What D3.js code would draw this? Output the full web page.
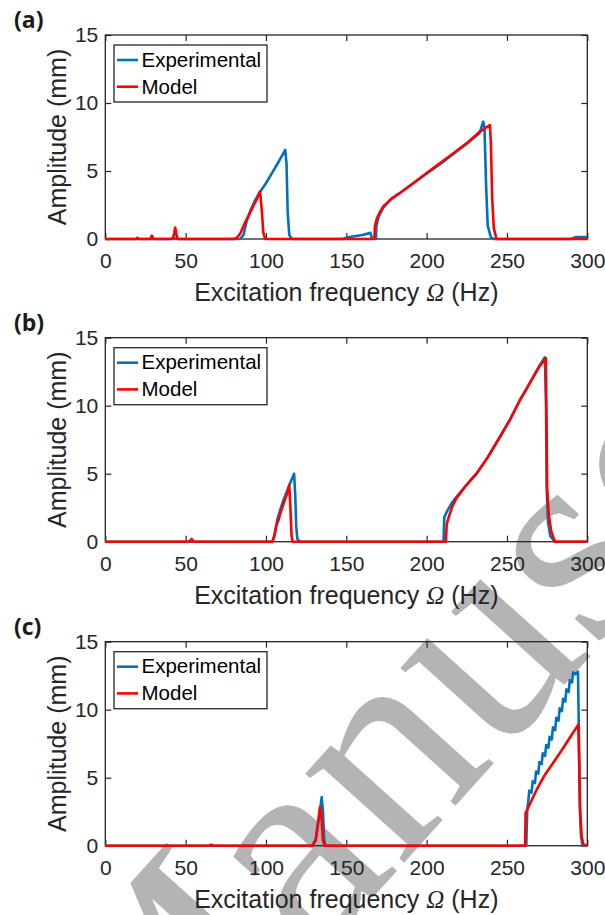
<!DOCTYPE html>
<html>
<head>
<meta charset="utf-8">
<script src="https://cdn.jsdelivr.net/npm/d3@7"></script>
<style>
  body { margin: 0; background: #fff; }
  svg { display: block; }
</style>
</head>
<body>
<svg id="fig" width="605" height="915"></svg>
<script>
// ---- data: frequency (Hz), amplitude (mm) ----
const xTicks = [0, 50, 100, 150, 200, 250, 300];
const yTicks = [0, 5, 10, 15];
const seriesNames = ["Experimental", "Model"];
const seriesColors = ["#0072BD", "#FF0000"];
const panelLabels = ["(a)", "(b)", "(c)"];

const expA = [[0,0],[40,0],[43,0.05],[45,0],[84,0],[86,0.3],[88,1.3],[90,2.0],[93,2.8],[96,3.4],
  [100,4.1],[104,4.9],[108,5.7],[112,6.55],[112.8,5.5],[113.5,2],[114.5,0.3],[116,0],[148,0],
  [150,0.1],[155,0.2],[160,0.3],[165,0.45],[166,0.05],[168.5,0],[168.7,0.9],[170,1.6],[173,2.3],
  [178,2.95],[183,3.35],[190,3.95],[200,4.8],[210,5.65],[216.6,6.25],[225,7.0],[233,7.8],
  [235.2,8.63],[236,8.2],[237,4],[238,1],[240,0.1],[242,0],[290,0],[293,0.15],[300,0.15]];
const modelA = [[0,0],[19,0],[20,0.08],[21,0],[28,0],[29,0.25],[30,0],[42,0],[43,0.5],[43.5,0.85],
  [44.3,0.3],[45,0],[80,0],[82,0.1],[84,0.4],[86,0.95],[88,1.45],[90,1.9],[92,2.4],[94,2.85],
  [96.3,3.5],[97.5,2],[98.3,0.5],[99.5,0],[167.5,0],[167.8,0.95],[169,1.5],[171,2.0],[173,2.4],
  [178,2.95],[183.4,3.38],[190,3.95],[200,4.85],[208,5.55],[216.6,6.3],[225,7.05],[233.2,7.9],
  [239.4,8.38],[240,7],[240.8,3],[241.8,0.8],[243.5,0],[300,0]];

const expB = [[0,0],[104,0],[105.5,0.6],[107,1.6],[109,2.4],[111,3.1],[113,3.7],[115,4.3],
  [117.5,5.0],[118.2,3.5],[118.8,1.2],[119.5,0.2],[121,0],[210.5,0],[211,1.8],[213,2.3],
  [216,2.9],[218.6,3.3],[225,4.2],[231,5.0],[238,6.2],[245.6,7.7],[252,9.0],[258,10.4],
  [262,11.2],[266.3,12.1],[270,12.9],[273.6,13.56],[274.3,10],[274.7,4],[275.5,1.5],[277,0.4],
  [279.8,0],[300,0]];
const modelB = [[0,0],[52,0],[53.8,0.2],[55,0],[104,0],[105,0.3],[106.5,1.2],[107.7,1.55],
  [109,2.1],[111,2.8],[113,3.5],[114.5,4.13],[115.2,2.5],[115.9,0.5],[116.5,0],[212,0],
  [212.5,1.3],[214,1.9],[216,2.6],[218.6,3.2],[225,4.2],[231,5.0],[238,6.2],[245.6,7.7],
  [252,9.0],[258,10.4],[262,11.2],[266.3,12.1],[270,12.85],[274.2,13.5],[274.6,9],[275,4],
  [276,2],[277.5,0.8],[279.8,0],[300,0]];

const expC = [[0,0],[129,0],[131,0.5],[133,2.0],[134.7,3.58],[135.5,2.5],[136.2,0.5],[137,0],
  [262,0],[262.6,2.6],[263.2,3.2],[263.9,4.05],[265.3,3.9],[266.0,4.75],[267.4,4.6],[268.1,5.45],
  [269.5,5.3],[270.2,6.15],[271.6,6.0],[272.3,6.8],[273.7,6.6],[274.4,7.4],[275.8,7.2],
  [276.5,8.0],[277.9,7.8],[278.6,8.7],[280.0,8.5],[280.7,9.4],[282.1,9.2],[282.8,10.1],
  [284.2,9.9],[284.9,10.8],[286.3,10.6],[287.0,11.5],[288.4,11.3],[289.1,12.2],[290.5,12.0],
  [291.2,12.75],[292.6,12.6],[294.2,12.8],[294.8,8],[295.3,3],[296,0.8],[297,0],[300,0]];
const modelC = [[0,0],[65,0],[66,0.08],[67,0],[129,0],[131,0.4],[132.5,1.8],[133.6,2.83],
  [134.5,2.0],[135.5,0.4],[136.5,0],[261.3,0],[261.6,2.4],[264,3.0],[268.4,4.1],[273,5.1],
  [278.8,6.1],[284,7.0],[289.2,7.95],[294.4,8.9],[295,6],[295.6,2.5],[296.5,0.7],[297.5,0.1],
  [300,0]];

const panels = [
  { label: panelLabels[0], series: [expA, modelA] },
  { label: panelLabels[1], series: [expB, modelB] },
  { label: panelLabels[2], series: [expC, modelC] }
];

// ---- layout ----
const plotLeft = 105.3, plotWidth = 482, plotHeight = 204;
const panelTops = [35, 337.7, 641.7];
const axisColor = "#262626";
const sans = "'Liberation Sans', Arial, Helvetica, sans-serif";

const svg = d3.select("#fig");

// faint diagonal watermark lettering behind the figure
svg.append("text")
  .attr("transform", "translate(141,1155) rotate(-48)")
  .attr("font-family", "'Liberation Serif', 'Times New Roman', serif")
  .attr("font-size", 290)
  .attr("fill", "#b4b4b4")
  .text("Manuscript");

const x = d3.scaleLinear().domain([0, 300]).range([0, plotWidth]);
const y = d3.scaleLinear().domain([0, 15]).range([plotHeight, 0]);
const line = d3.line().x(d => x(d[0])).y(d => y(d[1]));

panels.forEach((p, i) => {
  const g = svg.append("g").attr("transform", `translate(${plotLeft},${panelTops[i]})`);

  // inward ticks on all four sides
  const bottom = g.append("g").attr("transform", `translate(0,${plotHeight})`)
    .call(d3.axisBottom(x).tickValues(xTicks).tickSizeInner(-6).tickSizeOuter(0).tickPadding(14));
  const top = g.append("g")
    .call(d3.axisTop(x).tickValues(xTicks).tickSizeInner(-6).tickSizeOuter(0).tickFormat(""));
  const left = g.append("g")
    .call(d3.axisLeft(y).tickValues(yTicks).tickSizeInner(-6).tickSizeOuter(0).tickPadding(7));
  const right = g.append("g").attr("transform", `translate(${plotWidth},0)`)
    .call(d3.axisRight(y).tickValues(yTicks).tickSizeInner(-6).tickSizeOuter(0).tickFormat(""));

  [bottom, top, left, right].forEach(a => {
    a.select(".domain").remove();
    a.selectAll(".tick line").attr("stroke", axisColor).attr("stroke-width", 1.2);
    a.selectAll("text").attr("fill", axisColor).attr("font-family", sans).attr("font-size", 21);
  });

  g.append("rect")
    .attr("width", plotWidth).attr("height", plotHeight)
    .attr("fill", "none").attr("stroke", axisColor).attr("stroke-width", 1.3);

  // axis titles
  const xt = g.append("text")
    .attr("x", plotWidth / 2).attr("y", plotHeight + 62)
    .attr("text-anchor", "middle").attr("fill", axisColor)
    .attr("font-family", sans).attr("font-size", 25);
  xt.append("tspan").text("Excitation frequency ");
  xt.append("tspan").attr("font-family", "'Liberation Serif', 'Times New Roman', serif")
    .attr("font-style", "italic").text("\u03A9");
  xt.append("tspan").text(" (Hz)");

  g.append("text")
    .attr("transform", `translate(-39,${plotHeight / 2}) rotate(-90)`)
    .attr("text-anchor", "middle").attr("fill", axisColor)
    .attr("font-family", sans).attr("font-size", 25)
    .text("Amplitude (mm)");

  // panel letter
  svg.append("text")
    .attr("x", 14).attr("y", panelTops[i] - 7)
    .attr("font-family", "'Open Sans', 'DejaVu Sans', sans-serif")
    .attr("font-weight", 700).attr("font-size", 23)
    .attr("fill", "#1a1a1a")
    .text(p.label);

  // data curves
  p.series.forEach((s, k) => {
    g.append("path").datum(s)
      .attr("d", line)
      .attr("fill", "none")
      .attr("stroke", seriesColors[k])
      .attr("stroke-width", 2.6)
      .attr("stroke-linejoin", "round");
  });

  // legend
  const lg = g.append("g").attr("transform", "translate(8.7,10)");
  lg.append("rect").attr("width", 153).attr("height", 57)
    .attr("fill", "#fff").attr("stroke", axisColor).attr("stroke-width", 1.3);
  seriesNames.forEach((name, k) => {
    const yy = 15 + k * 26.7;
    lg.append("line").attr("x1", 3).attr("x2", 24).attr("y1", yy).attr("y2", yy)
      .attr("stroke", seriesColors[k]).attr("stroke-width", 2.6);
    lg.append("text").attr("x", 27.5).attr("y", yy + 6.8)
      .attr("font-family", sans).attr("font-size", 20.5).attr("fill", "#000")
      .text(name);
  });
});
</script>
</body>
</html>
